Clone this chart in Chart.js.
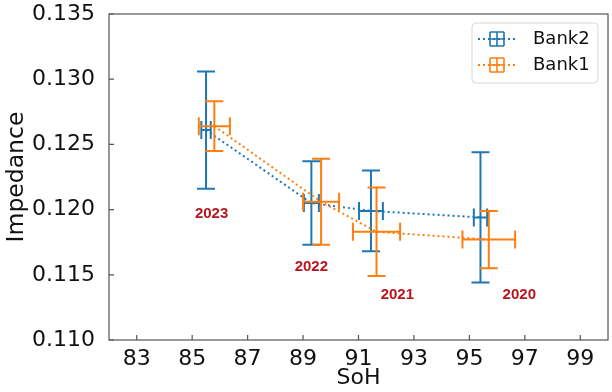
<!DOCTYPE html>
<html>
<head>
<meta charset="utf-8">
<script src="https://cdn.jsdelivr.net/npm/chart.js@4.4.1/dist/chart.umd.min.js"></script>
<style>
  html, body { margin: 0; padding: 0; background: #fff; }
</style>
</head>
<body>
<canvas id="sohChart" width="612" height="392"></canvas>
<script>
// data
const bankNames = ['Bank2', 'Bank1'];
const years = ['2023', '2022', '2021', '2020'];

const soh2 = [85.5, 89.3, 91.45, 95.4];
const imp2 = [0.1261, 0.1205, 0.1199, 0.1194];
const sohErr2 = [0.17, 0.27, 0.43, 0.24];
const impErr2 = [0.0045, 0.0032, 0.0031, 0.0050];

const soh1 = [85.8, 89.65, 91.65, 95.7];
const imp1 = [0.1264, 0.1206, 0.1183, 0.1177];
const sohErr1 = [0.56, 0.65, 0.85, 0.95];
const impErr1 = [0.0019, 0.0033, 0.0034, 0.0022];

// where the year notes sit (data units)
const yearX = [85.7, 89.3, 92.4, 96.8];
const yearY = [0.1197, 0.1156, 0.1135, 0.1135];

const xTicks = [83, 85, 87, 89, 91, 93, 95, 97, 99];
const yTicks = [0.110, 0.115, 0.120, 0.125, 0.130, 0.135];

const blue = '#1f77b4';
const orange = '#ff7f0e';
const FONT = 'DejaVu Sans';

function pts(xs, ys) {
  return xs.map((x, i) => ({ x: x, y: ys[i] }));
}

const errs = [
  { dx: sohErr2, dy: impErr2 },
  { dx: sohErr1, dy: impErr1 }
];

// draws the error bars for each dataset right after its line
const errorBars = {
  id: 'errorBars',
  afterDatasetDraw(chart, args) {
    const ctx = chart.ctx;
    const xs = chart.scales.x, ys = chart.scales.y;
    const ds = chart.data.datasets[args.index];
    const e = errs[args.index];
    const cap = 9;
    ctx.save();
    ctx.strokeStyle = ds.borderColor;
    ctx.lineWidth = 2;
    ctx.setLineDash([]);
    ds.data.forEach((p, i) => {
      const px = xs.getPixelForValue(p.x), py = ys.getPixelForValue(p.y);
      const x0 = xs.getPixelForValue(p.x - e.dx[i]), x1 = xs.getPixelForValue(p.x + e.dx[i]);
      const y0 = ys.getPixelForValue(p.y + e.dy[i]), y1 = ys.getPixelForValue(p.y - e.dy[i]);
      ctx.beginPath();
      ctx.moveTo(px, y0); ctx.lineTo(px, y1);
      ctx.moveTo(x0, py); ctx.lineTo(x1, py);
      ctx.moveTo(px - cap, y0); ctx.lineTo(px + cap, y0);
      ctx.moveTo(px - cap, y1); ctx.lineTo(px + cap, y1);
      ctx.moveTo(x0, py - cap); ctx.lineTo(x0, py + cap);
      ctx.moveTo(x1, py - cap); ctx.lineTo(x1, py + cap);
      ctx.stroke();
    });
    ctx.restore();
  }
};

// frame, inward ticks, year notes, legend
const decorations = {
  id: 'decorations',
  afterDraw(chart) {
    const ctx = chart.ctx;
    const a = chart.chartArea;
    const xs = chart.scales.x, ys = chart.scales.y;
    ctx.save();
    ctx.strokeStyle = '#555';
    ctx.lineWidth = 1.2;
    ctx.strokeRect(a.left, a.top, a.right - a.left, a.bottom - a.top);
    ctx.beginPath();
    xTicks.forEach(t => {
      const px = xs.getPixelForValue(t);
      ctx.moveTo(px, a.bottom); ctx.lineTo(px, a.bottom - 5);
    });
    yTicks.forEach(t => {
      const py = ys.getPixelForValue(t);
      ctx.moveTo(a.left, py); ctx.lineTo(a.left + 5, py);
    });
    ctx.stroke();

    ctx.fillStyle = '#b8161f';
    ctx.font = 'bold 15px "Liberation Sans"';
    ctx.textAlign = 'center';
    ctx.textBaseline = 'middle';
    years.forEach((yr, i) => {
      ctx.fillText(yr, xs.getPixelForValue(yearX[i]), ys.getPixelForValue(yearY[i]));
    });

    // legend box
    const lx = a.right - 136, ly = a.top + 9, lw = 126, lh = 60;
    ctx.beginPath();
    ctx.roundRect(lx, ly, lw, lh, 4);
    ctx.fillStyle = 'rgba(255,255,255,0.8)';
    ctx.fill();
    ctx.strokeStyle = '#d8d8d8';
    ctx.lineWidth = 1;
    ctx.stroke();
    const colors = [blue, orange];
    bankNames.forEach((name, i) => {
      const cy = ly + 16 + i * 26;
      const cx = lx + 25;
      ctx.strokeStyle = colors[i];
      ctx.lineWidth = 2;
      ctx.setLineDash([2, 3]);
      ctx.beginPath();
      ctx.moveTo(lx + 6, cy); ctx.lineTo(lx + 44, cy);
      ctx.stroke();
      ctx.setLineDash([]);
      const s = 7;
      ctx.lineWidth = 1.6;
      ctx.beginPath();
      ctx.moveTo(cx, cy - s); ctx.lineTo(cx, cy + s);
      ctx.moveTo(cx - s, cy); ctx.lineTo(cx + s, cy);
      ctx.moveTo(cx - s, cy - s); ctx.lineTo(cx + s, cy - s);
      ctx.moveTo(cx - s, cy + s); ctx.lineTo(cx + s, cy + s);
      ctx.moveTo(cx - s, cy - s); ctx.lineTo(cx - s, cy + s);
      ctx.moveTo(cx + s, cy - s); ctx.lineTo(cx + s, cy + s);
      ctx.stroke();
      ctx.fillStyle = '#111';
      ctx.font = '18px "' + FONT + '"';
      ctx.textAlign = 'left';
      ctx.textBaseline = 'middle';
      ctx.fillText(name, lx + 61, cy);
    });
    ctx.restore();
  }
};

const ctx = document.getElementById('sohChart').getContext('2d');
new Chart(ctx, {
  type: 'scatter',
  data: {
    datasets: [
      {
        label: bankNames[0],
        data: pts(soh2, imp2),
        borderColor: blue,
        backgroundColor: blue,
        showLine: true,
        borderWidth: 2,
        borderDash: [2, 3],
        pointRadius: 0,
        order: 1
      },
      {
        label: bankNames[1],
        data: pts(soh1, imp1),
        borderColor: orange,
        backgroundColor: orange,
        showLine: true,
        borderWidth: 2,
        borderDash: [2, 3],
        pointRadius: 0,
        order: 0
      }
    ]
  },
  options: {
    responsive: false,
    animation: false,
    layout: { padding: { top: 14, right: 4, left: 0, bottom: 0 } },
    plugins: {
      legend: { display: false },
      tooltip: { enabled: false }
    },
    scales: {
      x: {
        type: 'linear',
        min: 82,
        max: 100,
        afterBuildTicks: s => { s.ticks = xTicks.map(v => ({ value: v })); },
        afterFit: s => { s.height = 52; s.paddingLeft = 0; s.paddingRight = 0; },
        grid: { display: false },
        border: { display: false },
        ticks: {
          color: '#111',
          padding: -2,
          font: { family: FONT, size: 22 },
          callback: v => String(v)
        },
        title: {
          display: true,
          text: 'SoH',
          color: '#111',
          font: { family: FONT, size: 22 },
          padding: { top: 0, bottom: 1 }
        }
      },
      y: {
        type: 'linear',
        min: 0.110,
        max: 0.135,
        afterBuildTicks: s => { s.ticks = yTicks.map(v => ({ value: v })); },
        afterFit: s => { s.width = 109; s.paddingTop = 0; s.paddingBottom = 0; },
        grid: { display: false },
        border: { display: false },
        ticks: {
          color: '#111',
          padding: 6,
          font: { family: FONT, size: 22 },
          callback: v => Number(v).toFixed(3)
        },
        title: {
          display: true,
          text: 'Impedance',
          color: '#111',
          font: { family: FONT, size: 23.5 },
          padding: { top: 3, bottom: 0 }
        }
      }
    }
  },
  plugins: [errorBars, decorations]
});
</script>
</body>
</html>
